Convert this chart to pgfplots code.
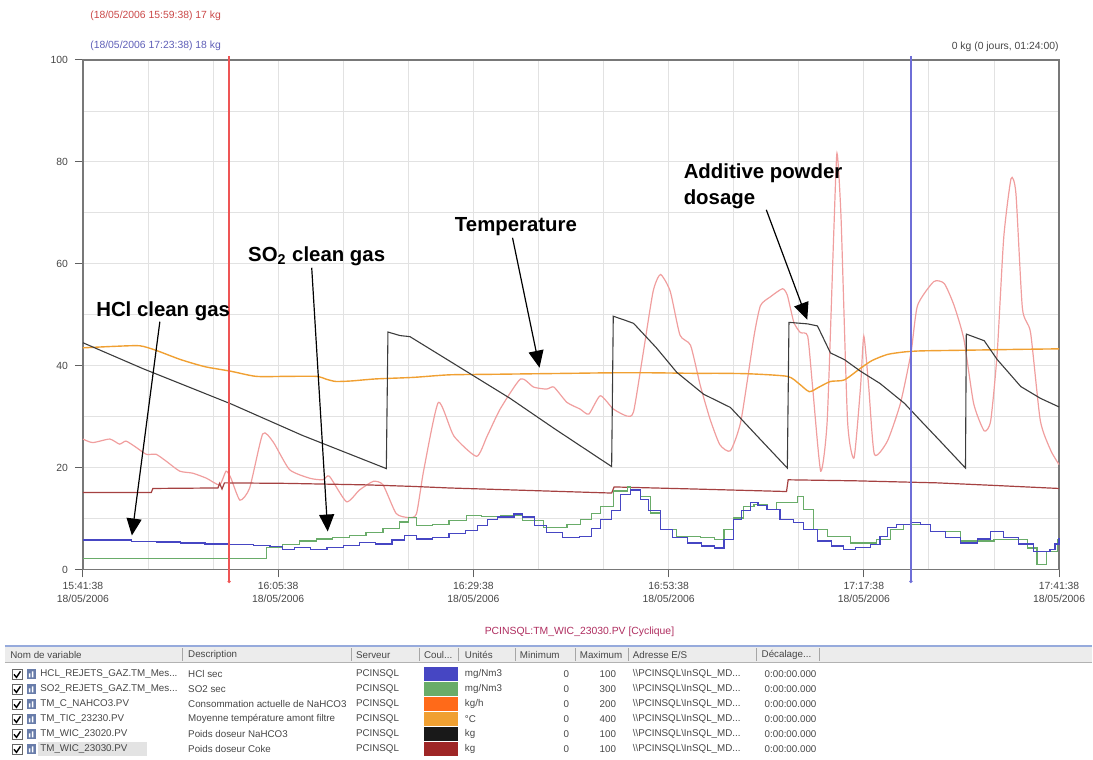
\documentclass[border=0pt]{standalone}
\usepackage{fontspec}
\setmainfont{Liberation Sans}
\usepackage{pgfplots}
\pgfplotsset{compat=1.18}
\usetikzlibrary{arrows.meta}

\definecolor{pinkc}{RGB}{240,158,158}
\definecolor{orangec}{RGB}{240,160,50}
\definecolor{blackc}{RGB}{60,60,60}
\definecolor{darkredc}{RGB}{165,65,65}
\definecolor{bluec}{RGB}{70,70,195}
\definecolor{greenc}{RGB}{105,172,105}
\definecolor{gridc}{RGB}{226,226,226}
\definecolor{cursorR}{RGB}{238,85,85}
\definecolor{cursorB}{RGB}{110,110,215}
\definecolor{txtgray}{RGB}{70,70,70}
\definecolor{framec}{RGB}{120,120,120}
\definecolor{headbg}{RGB}{236,236,236}
\definecolor{headline}{RGB}{150,170,220}
\definecolor{iconc}{RGB}{105,125,170}
\definecolor{titlec}{RGB}{175,45,95}

\newcommand{\smf}{\fontsize{5.2}{6.2}\selectfont}
\newcommand{\tnf}{\fontsize{4.9}{5.8}\selectfont}
\def\bs{\textbackslash}

% one row of the variable table (pixel units, y downwards)
\newcommand{\trow}[6]{%
  \draw[gray!80!black, line width=0.4pt, fill=white] (12,#1-5) rectangle (22,#1+5);
  \draw[black, line width=0.7pt] (14,#1) -- (16.5,#1+3) -- (20.5,#1-3);
  \fill[iconc] (27,#1-5) rectangle (36,#1+5);
  \fill[white] (29,#1+3) rectangle (30.5,#1-1) (32,#1+3) rectangle (33.5,#1-3);
  \node[anchor=west, inner sep=0] at (40,#1) {\tnf #2};
  \node[anchor=west, inner sep=0] at (188,#1) {\tnf #3};
  \node[anchor=west, inner sep=0] at (356,#1) {\tnf PCINSQL};
  \fill[#4] (424,#1-7) rectangle (458,#1+7);
  \node[anchor=west, inner sep=0] at (465,#1) {\tnf #5};
  \node[anchor=east, inner sep=0] at (570,#1) {\tnf 0};
  \node[anchor=east, inner sep=0] at (617,#1) {\tnf #6};
  \node[anchor=west, inner sep=0] at (633,#1) {\tnf \bs\bs PCINSQL\bs InSQL\_MD...};
  \node[anchor=west, inner sep=0] at (765,#1) {\tnf 0:00:00.000};
}

\begin{document}
\begin{tikzpicture}
\begin{scope}[x=0.5pt,y=-0.5pt]
\path[use as bounding box] (0,0) rectangle (1093,760);
\end{scope}

\begin{axis}[
    at={(41.5pt,-285pt)}, anchor=south west,
    scale only axis, width=488.5pt, height=255pt,
    xmin=0, xmax=120, ymin=0, ymax=100,
    xtick={0,24,48,72,96,120},
    xticklabels={{15:41:38\\18/05/2006},{16:05:38\\18/05/2006},{16:29:38\\18/05/2006},
                 {16:53:38\\18/05/2006},{17:17:38\\18/05/2006},{17:41:38\\18/05/2006}},
    ytick={0,20,40,60,80,100},
    minor xtick={8,16,32,40,56,64,80,88,104,112},
    minor ytick={10,30,50,70,90},
    grid=both,
    major grid style={gridc, line width=0.4pt},
    minor grid style={gridc, line width=0.4pt},
    tick pos=left, tick align=outside,
    major tick length=4pt, minor tick length=0pt,
    tick style={framec!80!black, line width=0.5pt},
    axis line style={framec, line width=0.6pt},
    xticklabel style={align=center, font=\smf, text=txtgray, yshift=1pt},
    yticklabel style={font=\smf, text=txtgray},
    /pgf/number format/assume math mode=true,
    clip=false,
]
% Consommation actuelle de NaHCO3
\addplot[pinkc, line width=0.6pt, smooth, tension=0.35] coordinates {
(0,25.6)(1.2,24.9)(3.3,25.6)(4.5,24.6)(5.3,25.2)(6.6,23.9)(7.8,22.6)(9.0,22.6)(10.2,21.3)
(11.9,19.3)(13.5,18.9)(15.2,17.9)(16.8,16.6)(17.6,19.3)(18.2,17.9)(19.3,13.6)(20.5,16.0)
(22.1,26.6)(23.4,25.0)(25.4,19.6)(27.9,17.9)(29.5,17.6)(30.3,18.3)(32.4,13.3)(34.0,15.6)
(35.7,17.3)(36.9,16.6)(38.5,11.0)(40.0,10.2)(41.0,10.9)(41.9,19.5)(43.7,32.8)(45.6,26.2)
(48.4,22.2)(49.7,26.2)(51.3,31.5)(53.8,37.4)(55.4,35.8)(57.0,35.4)(57.9,35.8)(59.5,32.8)
(61.1,31.5)(62.2,30.5)(63.6,34.1)(65.2,31.5)(66.9,30.1)(67.7,31.0)(68.9,42.7)(70.1,54.6)
(71.0,57.9)(72.2,54.6)(73.4,46.0)(74.7,44.0)(75.9,36.1)(77.1,29.5)(78.3,24.5)(79.6,23.3)
(80.9,29.2)(82.5,45.8)(83.3,51.8)(84.5,53.5)(86.0,55.1)(86.6,53.8)(87.4,48.5)(88.2,46.5)
(89.1,45.8)(89.7,35.9)(90.7,19.3)(91.5,29.2)(92.3,65.8)(92.7,81.7)(93.2,69.1)(94.0,29.2)
(94.8,21.9)(95.6,35.9)(96.0,45.8)(96.6,35.9)(97.3,22.6)(98.9,25.2)(100.5,32.6)(101.8,42.5)
(102.6,51.8)(104.6,56.5)(105.9,56.1)(107.1,51.8)(108.3,45.2)(109.5,32.6)(110.8,27.2)
(111.6,29.2)(112.4,42.5)(113.2,65.1)(114.1,76.7)(114.7,73.8)(115.5,51.2)(116.5,46.5)
(117.7,29.2)(119.0,23.3)(120,20.6)
};

% Moyenne temperature amont filtre
\addplot[orangec, line width=0.7pt, smooth, tension=0.4] coordinates {
(0,43.5)(4,43.8)(7,43.9)(9,43.0)(12,41.2)(15,39.8)(18.2,38.9)(21.3,37.9)(25,37.9)
(28.7,37.9)(30,37.3)(31.1,36.9)(33,37.0)(36,37.4)(40.6,37.7)(45,38.2)(50,38.3)(55,38.4)
(60,38.5)(65,38.6)(70,38.6)(75,38.5)(78.4,38.5)(82,38.4)(86.6,37.9)(88,36.5)(89.3,34.9)
(90.5,35.8)(91.9,36.9)(93.6,37.2)(95.6,39.5)(97,41.0)(98.9,42.2)(101,42.7)(103,42.9)
(107,43.0)(111.2,43.1)(115,43.2)(120,43.3)
};

% Poids doseur NaHCO3
\addplot[blackc, line width=0.55pt] coordinates {
(0,44.5)(7.4,39.4)(18.2,32.5)(27,26.3)(37.3,19.8)(37.5,46.6)(39,45.9)(40.2,45.7)(46,40.0)
(52.5,33.6)(58,27.6)(65.0,20.2)(65.2,49.7)(66.5,49.0)(67.7,48.3)(70.5,43.5)(73,38.7)
(76.3,34.4)(79.6,31.8)(83,26.0)(86.6,19.9)(86.8,48.5)(89.1,48.2)(90.3,47.8)(91.9,42.5)
(93.6,41.2)(95.6,38.9)(98,36.5)(101,32.6)(103,29.2)(105.5,25.0)(108.5,19.9)(108.6,46.2)
(110.8,44.9)(112.4,41.2)(115.3,35.9)(117.7,33.6)(120,31.9)
};

% Poids doseur Coke
\addplot[darkredc, line width=0.6pt] coordinates {
(0,15.1)(8.4,15.1)(8.6,15.9)(16.6,16.0)(16.8,16.9)(17.1,15.8)(17.4,17.0)(25,16.9)(35,16.6)
(40.6,16.3)(45,16.0)(55,15.5)(65.0,15.0)(65.3,16.2)(75,15.8)(86.5,15.3)(86.7,17.6)(95,17.4)
(105,17.0)(112,16.5)(120,15.9)
};

% SO2 sec
\addplot[greenc, line width=0.6pt, const plot] coordinates {
(0,2.1)(10,2.1)(22.4,2.1)(22.6,4.3)(24.5,4.9)(26.6,5.6)(28.7,6.0)(30.7,6.3)(32.8,6.6)
(34.8,7.3)(36.9,8.0)(38.9,9.3)(40,10.2)(41,8.6)(43,8.9)(45,9.6)(47.2,10.6)(49,10.4)
(51.3,10.6)(54,9.6)(56.6,8.3)(59.5,8.9)(61.2,9.8)(62.5,11.0)(63.6,12.4)(65.2,15.4)
(66.9,16.2)(67.3,15.7)(68.5,14.4)(69.8,11.1)(71,7.8)(73,6.5)(75.9,6.2)(77.6,5.9)(78.8,7.8)
(80,10.1)(81.2,12.4)(82.5,12.7)(84.1,11.8)(85.3,13.1)(87.8,14.4)(88.6,11.8)(89.8,7.8)
(91.5,6.5)(94.4,5.2)(97.6,5.9)(99.3,7.8)(100.9,8.8)(103,8.8)(104.2,7.5)(107.9,5.6)(112,5.9)
(116.1,4.2)(117.3,1.0)(118.5,3.6)(119.8,5.9)(120,6.0)
};

% HCl sec
\addplot[bluec, line width=0.6pt, const plot] coordinates {
(0,5.8)(3,5.8)(6,5.5)(9,5.4)(12,5.2)(15,5.0)(18,4.9)(21,4.7)(23,4.5)(24.5,4.0)(26,4.3)
(28,3.9)(30,4.3)(32,4.7)(34,5.3)(36,5.0)(38,5.8)(39.5,6.6)(41,6.0)(43,6.3)(45,7.0)(47,7.6)
(48.5,8.6)(49.7,9.8)(51,10.3)(53,10.9)(54,10.3)(55.5,8.6)(57,7.2)(59,6.2)(61,6.5)(62.5,8.0)
(63.6,9.8)(65,11.5)(66.1,14.7)(67.3,15.6)(68.5,13.7)(69.5,11.5)(71,7.8)(72.5,6.2)(74.3,5.2)
(76,4.6)(77.6,4.2)(78.8,5.9)(80,9.8)(81,11.5)(82.1,13.1)(83,12.5)(84.1,11.8)(85.7,9.8)
(87.4,9.2)(88.6,7.8)(90.3,5.6)(92,4.6)(93.5,3.9)(95,4.3)(96.8,4.9)(98,6.5)(98.9,8.2)
(100,8.8)(101.7,9.2)(103,8.8)(104.2,7.5)(106,6.2)(107.9,5.2)(110,6.0)(111.6,7.5)(113.2,6.2)
(115,5.0)(116.9,3.6)(118.9,3.9)(119.5,5.0)(120,6.2)
};
\end{axis}

\begin{scope}[x=0.5pt,y=-0.5pt]
% cursors (18 min and 102 min after 15:41:38)
\draw[draw=cursorR, line width=0.6pt] (229.3,56) -- (229.3,582);
\fill[cursorR] (229.3,582) circle (1.8);
\draw[draw=cursorB, line width=0.6pt] (911.8,56) -- (911.8,582);
\fill[cursorB] (911.8,582) circle (1.8);

% cursor read-outs
\node[anchor=west, inner sep=0, text=cursorR!85!black] at (90,16) {\smf (18/05/2006 15:59:38) 17 kg};
\node[anchor=west, inner sep=0, text=cursorB!85!black] at (90,46) {\smf (18/05/2006 17:23:38) 18 kg};
\node[anchor=east, inner sep=0, text=txtgray] at (1060,47) {\smf 0 kg (0 jours, 01:24:00)};

% annotations
\begin{scope}[font=\fontsize{10.2}{12}\selectfont\bfseries]
\node[anchor=base west, inner sep=0] at (96,317) {HCl clean gas};
\node[anchor=base west, inner sep=0] at (248,262) {SO\textsubscript{2} clean gas};
\node[anchor=base west, inner sep=0] at (455,232) {Temperature};
\node[anchor=base west, inner sep=0] at (684,179) {Additive powder};
\node[anchor=base west, inner sep=0] at (684,205) {dosage};
\end{scope}
\begin{scope}[line width=0.6pt, -{Triangle[width=7.5pt,length=8.5pt]}]
\draw (160,322) -- (132,536);
\draw (312,268) -- (328,532);
\draw (513,238) -- (540,368);
\draw (767,210) -- (808,320);
\end{scope}

% variable table
\node[text=titlec, inner sep=0] at (580,632) {\smf PCINSQL:TM\_WIC\_23030.PV [Cyclique]};
\fill[headbg] (5,648) rectangle (1093,663);
\draw[headline, line width=1pt] (5,647) -- (1093,647);
\draw[gray!60, line width=0.4pt] (5,663.5) -- (1093,663.5);
\foreach \sx in {183,352,420,459,516,576,629,757,820}
  \draw[gray!70, line width=0.4pt] (\sx,649) -- (\sx,662);
\begin{scope}[text=txtgray]
\node[anchor=west, inner sep=0] at (10,655.5) {\tnf Nom de variable};
\node[anchor=west, inner sep=0] at (188,655.5) {\tnf Description};
\node[anchor=west, inner sep=0] at (356,655.5) {\tnf Serveur};
\node[anchor=west, inner sep=0] at (424,655.5) {\tnf Coul...};
\node[anchor=west, inner sep=0] at (465,655.5) {\tnf Unités};
\node[anchor=west, inner sep=0] at (520,655.5) {\tnf Minimum};
\node[anchor=west, inner sep=0] at (580,655.5) {\tnf Maximum};
\node[anchor=west, inner sep=0] at (633,655.5) {\tnf Adresse E/S};
\node[anchor=west, inner sep=0] at (762,655.5) {\tnf Décalage...};
\fill[gray!22] (38,743) rectangle (147,757);
\trow{675}{HCL\_REJETS\_GAZ.TM\_Mes...}{HCl sec}{bluec}{mg/Nm3}{100}
\trow{690}{SO2\_REJETS\_GAZ.TM\_Mes...}{SO2 sec}{greenc}{mg/Nm3}{300}
\trow{705}{TM\_C\_NAHCO3.PV}{Consommation actuelle de NaHCO3}{orange!70!red!90}{kg/h}{200}
\trow{720}{TM\_TIC\_23230.PV}{Moyenne température amont filtre}{orangec}{°C}{400}
\trow{735}{TM\_WIC\_23020.PV}{Poids doseur NaHCO3}{black!90}{kg}{100}
\trow{750}{TM\_WIC\_23030.PV}{Poids doseur Coke}{red!55!black!85}{kg}{100}
\end{scope}
\end{scope}
\end{tikzpicture}
\end{document}
